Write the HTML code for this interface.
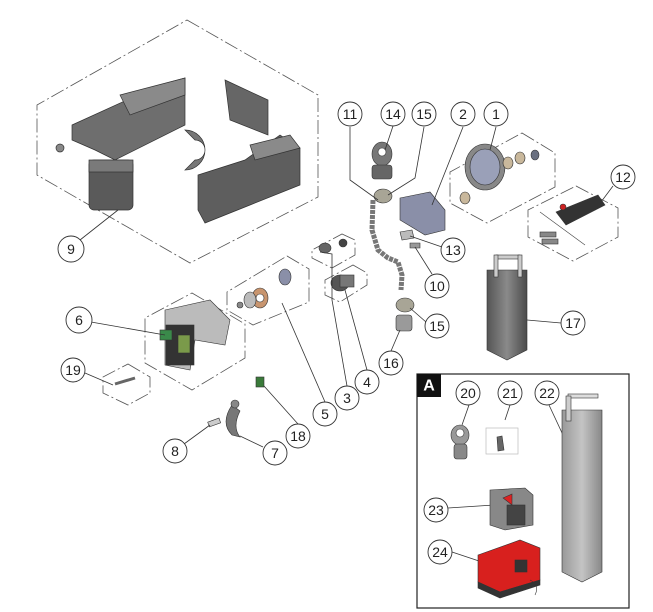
<!DOCTYPE html>
<html><head><style>
html,body{margin:0;padding:0;background:#fff}
svg{display:block}
text{font-family:"Liberation Sans",sans-serif;font-size:14px;fill:#222;text-anchor:middle;dominant-baseline:central}
</style></head><body>
<svg width="653" height="612" viewBox="0 0 653 612" xmlns="http://www.w3.org/2000/svg">
<defs>
<linearGradient id="g" x1="0" x2="1"><stop offset="0" stop-color="#555"/><stop offset=".5" stop-color="#8a8a8a"/><stop offset="1" stop-color="#4a4a4a"/></linearGradient>
<linearGradient id="gl" x1="0" x2="1"><stop offset="0" stop-color="#999"/><stop offset=".5" stop-color="#c4c4c4"/><stop offset="1" stop-color="#888"/></linearGradient>
</defs>
<g fill="none" stroke="#555" stroke-width="0.8" stroke-dasharray="14,3,2,3">
<polygon points="187,20 318,95 318,197 190,263 37,175 37,105"/>
<polygon points="522,133 555,153 555,187 487,223 450,203 450,172"/>
<polygon points="576,186 618,208 618,237 573,261 528,237 528,210"/>
<polygon points="192,293 245,324 245,358 192,390 145,363 145,318"/>
<polygon points="128,364 150,377 150,393 128,405 103,393 103,377"/>
<polygon points="287,256 309,269 309,302 253,325 227,310 227,292"/>
<polygon points="342,234 355,240 355,255 332,268 312,258 312,250"/>
<polygon points="353,265 367,273 367,285 340,302 325,295 325,280"/>
</g>
<!-- housing parts -->
<g stroke="#333" stroke-width="0.7">
<polygon points="72,125 160,85 185,78 185,125 115,160 95,150 72,140" fill="#6e6e6e"/>
<polygon points="120,95 185,78 185,95 130,115" fill="#8a8a8a"/>
<rect x="89" y="160" width="44" height="50" rx="5" fill="#5a5a5a"/>
<rect x="89" y="160" width="44" height="12" fill="#7a7a7a"/>
<polygon points="225,80 268,100 268,135 230,120" fill="#666"/>
<path d="M185,130 a20,20 0 1,1 0,40 l10,-10 a10,10 0 1,0 0,-20z" fill="#777"/>
<polygon points="198,175 245,160 280,135 300,148 300,185 250,205 205,223 198,210" fill="#5e5e5e"/>
<polygon points="250,145 290,135 300,148 255,160" fill="#8a8a8a"/>
<circle cx="60" cy="148" r="4" fill="#888"/>
</g>
<!-- chain -->
<path d="M373,200 L372,230 378,250 388,258 398,262 402,275 401,290" stroke="#777" stroke-width="5" fill="none" stroke-dasharray="4,1"/>
<!-- eye bolt 14 -->
<g stroke="#333" stroke-width="0.6">
<ellipse cx="382" cy="154" rx="10" ry="12" fill="#777"/><circle cx="382" cy="152" r="4" fill="#fff"/>
<rect x="372" y="165" width="20" height="14" rx="3" fill="#666"/>
<ellipse cx="383" cy="196" rx="9" ry="7" fill="#a8a596"/>
<polygon points="400,198 430,192 445,210 445,230 425,235 400,220" fill="#8a8fa8"/>
<ellipse cx="405" cy="305" rx="9" ry="7" fill="#a8a596"/>
<rect x="396" y="315" width="16" height="16" rx="3" fill="#9a9a9a"/>
<polygon points="400,232 412,230 414,238 402,240" fill="#bbb"/>
<polygon points="410,243 420,243 420,248 410,248" fill="#999"/>
<!-- gear 1 -->
<ellipse cx="485" cy="167" rx="20" ry="23" fill="#888"/><ellipse cx="485" cy="167" rx="15" ry="18" fill="#9aa0b8"/>
<ellipse cx="465" cy="198" rx="5" ry="6" fill="#c9b89c"/>
<ellipse cx="508" cy="163" rx="5" ry="6" fill="#c9b89c"/><ellipse cx="520" cy="158" rx="5" ry="6" fill="#c9b89c"/><ellipse cx="535" cy="155" rx="4" ry="5" fill="#6a7080"/>
<!-- remote 12 -->
<polygon points="556,212 598,195 605,205 566,225" fill="#333"/><circle cx="563" cy="207" r="3" fill="#c22"/>
<line x1="540" y1="212" x2="585" y2="245" stroke="#444"/>
<rect x="540" y="232" width="16" height="5" fill="#888"/><rect x="542" y="239" width="16" height="5" fill="#888"/>
<!-- cylinder 17 -->
<path d="M487,270 L527,270 L527,350 L507,360 L487,350Z" fill="url(#g)"/>
<rect x="496" y="255" width="24" height="4" fill="#ccc"/><rect x="494" y="255" width="4" height="22" fill="#ccc"/><rect x="518" y="255" width="4" height="22" fill="#ccc"/>
<!-- parts 3 4 5 -->
<ellipse cx="325" cy="248" rx="6" ry="5" fill="#666"/><circle cx="343" cy="243" r="4" fill="#444"/>
<ellipse cx="340" cy="283" rx="9" ry="8" fill="#555"/><rect x="340" y="275" width="14" height="12" fill="#777"/>
<ellipse cx="260" cy="298" rx="8" ry="10" fill="#c8956f"/><circle cx="260" cy="298" r="4" fill="#fff"/>
<ellipse cx="250" cy="300" rx="6" ry="8" fill="#bbb"/><ellipse cx="285" cy="277" rx="6" ry="8" fill="#8a8fa8"/>
<circle cx="240" cy="305" r="3" fill="#888"/>
<!-- 6 -->
<polygon points="165,310 210,300 230,320 225,345 195,340 190,370 165,365" fill="#bbb"/>
<rect x="166" y="325" width="28" height="40" fill="#333"/><rect x="160" y="330" width="12" height="10" fill="#3a8a4a"/>
<rect x="178" y="335" width="12" height="18" fill="#7a9a4a"/>
<!-- 19 -->
<line x1="115" y1="384" x2="135" y2="378" stroke="#666" stroke-width="3"/>
<!-- 18,7,8 -->
<rect x="256" y="377" width="8" height="10" fill="#3a7a3a"/>
<path d="M232,405 q-12,18 0,30 l8,2 q-8,-10 0,-26z" fill="#777"/><circle cx="235" cy="404" r="4" fill="#888"/>
<rect x="208" y="420" width="12" height="5" fill="#ccc" transform="rotate(-20 214 422)"/>
</g>
<!-- leader lines -->
<g stroke="#333" stroke-width="0.8" fill="none">
<path d="M80,240 L118,210"/><path d="M350,127 L350,180 L378,200"/><path d="M393,126 L385,150"/><path d="M424,127 L415,178 L388,195"/>
<path d="M463,127 L432,205"/><path d="M496,127 L490,150"/><path d="M613,186 L595,210"/><path d="M442,247 L410,236"/>
<path d="M432,274 L415,247"/><path d="M426,322 L410,308"/><path d="M561,323 L527,320"/><path d="M391,351 L400,330"/>
<path d="M367,370 L345,290"/><path d="M347,386 L332,300 L332,254 L320,252"/><path d="M325,402 L282,303"/>
<path d="M91,322 L165,335"/><path d="M85,373 L113,385"/><path d="M298,424 L264,386"/><path d="M263,447 L240,436"/><path d="M184,444 L210,425"/>
<path d="M469,405 L462,425"/><path d="M510,405 L505,420"/><path d="M549,405 L570,450"/><path d="M448,508 L494,505"/><path d="M452,552 L482,562"/>
</g>
<!-- Box A -->
<rect x="417" y="374" width="212" height="234" fill="none" stroke="#222" stroke-width="1.2"/>
<rect x="417" y="374" width="24" height="23" fill="#111"/>
<text x="429" y="386" style="fill:#fff;font-weight:bold;font-size:16px">A</text>
<rect x="486" y="428" width="32" height="26" fill="none" stroke="#bbb" stroke-width="0.7"/>
<g stroke="#333" stroke-width="0.6">
<ellipse cx="460" cy="435" rx="9" ry="10" fill="#999"/><circle cx="460" cy="433" r="4" fill="#fff"/>
<rect x="454" y="444" width="13" height="15" rx="3" fill="#888"/>
<polygon points="497,437 502,436 504,450 498,451" fill="#666"/>
<path d="M562,410 L602,410 L602,572 L582,582 L562,572Z" fill="url(#gl)"/>
<rect x="568" y="394" width="30" height="4" fill="#ddd"/><rect x="566" y="396" width="5" height="25" fill="#ccc"/>
<path d="M490,490 L525,488 L533,495 L533,525 L505,530 L490,525Z" fill="#888"/>
<rect x="507" y="505" width="18" height="20" fill="#444"/>
<polygon points="503,498 512,494 512,505" fill="#d22"/>
<path d="M478,555 L520,540 L540,548 L540,580 L500,592 L478,582Z" fill="#d8201e"/>
<path d="M478,582 L500,592 L540,580 L540,585 L500,598 L478,588Z" fill="#333"/>
<rect x="515" y="560" width="12" height="12" fill="#333"/>
<path d="M530,580 q10,5 5,15" fill="none" stroke="#333"/>
</g>
<!-- number circles -->
<g fill="#fff" stroke="#333" stroke-width="0.9">
<circle cx="71" cy="249" r="13"/><circle cx="350" cy="114" r="12"/><circle cx="393" cy="114" r="12"/><circle cx="424" cy="114" r="12"/>
<circle cx="463" cy="114" r="12"/><circle cx="496" cy="114" r="12"/><circle cx="623" cy="177" r="12"/><circle cx="453" cy="250" r="12"/>
<circle cx="437" cy="286" r="12"/><circle cx="437" cy="326" r="12"/><circle cx="573" cy="323" r="12"/><circle cx="391" cy="363" r="12"/>
<circle cx="367" cy="382" r="12"/><circle cx="347" cy="398" r="12"/><circle cx="325" cy="414" r="12"/><circle cx="79" cy="320" r="13"/>
<circle cx="73" cy="370" r="12"/><circle cx="298" cy="436" r="12"/><circle cx="175" cy="451" r="12"/><circle cx="275" cy="453" r="12"/>
<circle cx="468" cy="393" r="12"/><circle cx="510" cy="393" r="12"/><circle cx="547" cy="393" r="12"/><circle cx="436" cy="510" r="12"/><circle cx="440" cy="552" r="12"/>
</g>
<g>
<text x="71" y="249">9</text><text x="350" y="114">11</text><text x="393" y="114">14</text><text x="424" y="114">15</text>
<text x="463" y="114">2</text><text x="496" y="114">1</text><text x="623" y="177">12</text><text x="453" y="250">13</text>
<text x="437" y="286">10</text><text x="437" y="326">15</text><text x="573" y="323">17</text><text x="391" y="363">16</text>
<text x="367" y="382">4</text><text x="347" y="398">3</text><text x="325" y="414">5</text><text x="79" y="320">6</text>
<text x="73" y="370">19</text><text x="298" y="436">18</text><text x="175" y="451">8</text><text x="275" y="453">7</text>
<text x="468" y="393">20</text><text x="510" y="393">21</text><text x="547" y="393">22</text><text x="436" y="510">23</text><text x="440" y="552">24</text>
</g>
</svg>
</body></html>
